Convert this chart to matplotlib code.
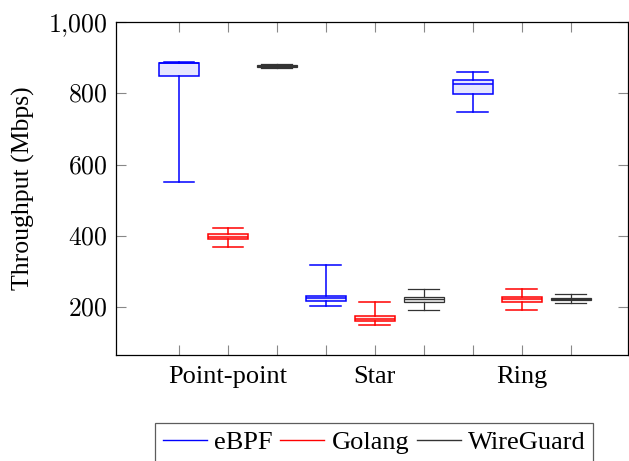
import matplotlib
matplotlib.use('Agg')
import matplotlib.pyplot as plt
from matplotlib.lines import Line2D

plt.rcParams['font.family'] = ['Liberation Serif', 'DejaVu Serif']
plt.rcParams['mathtext.fontset'] = 'cm'

categories = ['Point-point', 'Star', 'Ring']
series = ['eBPF', 'Golang', 'WireGuard']

# five-number summaries per topology (Point-point, Star, Ring)
ebpf_lo = [550, 203, 748]
ebpf_q1 = [848, 216, 799]
ebpf_med = [885, 224, 825]
ebpf_q3 = [886, 230, 838]
ebpf_hi = [889, 317, 860]

golang_lo = [368, 148, 192]
golang_q1 = [391, 160, 213]
golang_med = [397, 167, 221]
golang_q3 = [404, 175, 229]
golang_hi = [422, 214, 249]

wg_lo = [870, 192, 212]
wg_q1 = [874, 213, 220]
wg_med = [877, 221, 223]
wg_q3 = [879, 229, 225]
wg_hi = [881, 249, 235]

yticks = [200, 400, 600, 800, 1000]

data = {
    'eBPF': (ebpf_lo, ebpf_q1, ebpf_med, ebpf_q3, ebpf_hi),
    'Golang': (golang_lo, golang_q1, golang_med, golang_q3, golang_hi),
    'WireGuard': (wg_lo, wg_q1, wg_med, wg_q3, wg_hi),
}
colors = {'eBPF': '#0000ff', 'Golang': '#ff0000', 'WireGuard': '#333333'}
fills = {'eBPF': '#e6e6ff', 'Golang': '#ffe6e6', 'WireGuard': '#e6e6e6'}
lw = {'eBPF': 1.1, 'Golang': 1.1, 'WireGuard': 0.9}

fig = plt.figure(figsize=(6.29, 4.61), dpi=100)
ax = fig.add_axes([0.184, 0.230, 0.814, 0.722])

for j, name in enumerate(series):
    lo, q1, med, q3, hi = data[name]
    stats = []
    pos = []
    for i in range(len(categories)):
        stats.append({'whislo': lo[i], 'q1': q1[i], 'med': med[i],
                      'q3': q3[i], 'whishi': hi[i], 'fliers': []})
        pos.append(1 + 3 * i + j)
    c = colors[name]
    w = lw[name]
    ax.bxp(stats, positions=pos, widths=0.8, patch_artist=True,
           showfliers=False,
           boxprops=dict(facecolor=fills[name], edgecolor=c, linewidth=w),
           medianprops=dict(color=c, linewidth=w),
           whiskerprops=dict(color=c, linewidth=w),
           capprops=dict(color=c, linewidth=w),
           capwidths=0.63, manage_ticks=False)

ax.set_xlim(-0.29, 10.16)
ax.set_ylim(65, 1000)

ax.xaxis.remove_overlapping_locs = False
ax.set_xticks(range(1, 10))
ax.set_xticklabels([])
ax.set_xticks([2, 5, 8], minor=True)
ax.set_xticklabels(categories, minor=True, fontsize=19)
ax.tick_params(axis='x', which='minor', length=0, pad=8)
ax.tick_params(axis='x', which='major', direction='in', length=7.5,
               top=True, color='#888888', width=0.8)

ax.set_yticks(yticks)
ax.set_yticklabels(['$' + f'{v:,}'.replace(',', '{,}') + '$' for v in yticks],
                   fontsize=18.5)
ax.tick_params(axis='y', direction='in', length=7.5, right=True,
               color='#888888', width=0.8, pad=6)
ax.yaxis.set_minor_locator(plt.NullLocator())

for s in ax.spines.values():
    s.set_linewidth(0.9)

ax.set_ylabel('Throughput (Mbps)', fontsize=18.5, labelpad=9)

handles = [Line2D([], [], color=colors[n], linewidth=1.0) for n in series]
leg = ax.legend(handles, series, loc='upper center', bbox_to_anchor=(0.505, -0.204),
                ncol=3, fontsize=19, frameon=True, fancybox=False,
                handlelength=1.67, handletextpad=0.27, columnspacing=0.28,
                borderpad=0.3, borderaxespad=0)
leg.get_frame().set_edgecolor('#333333')
leg.get_frame().set_linewidth(0.9)

fig.savefig('out.png', dpi=100)
